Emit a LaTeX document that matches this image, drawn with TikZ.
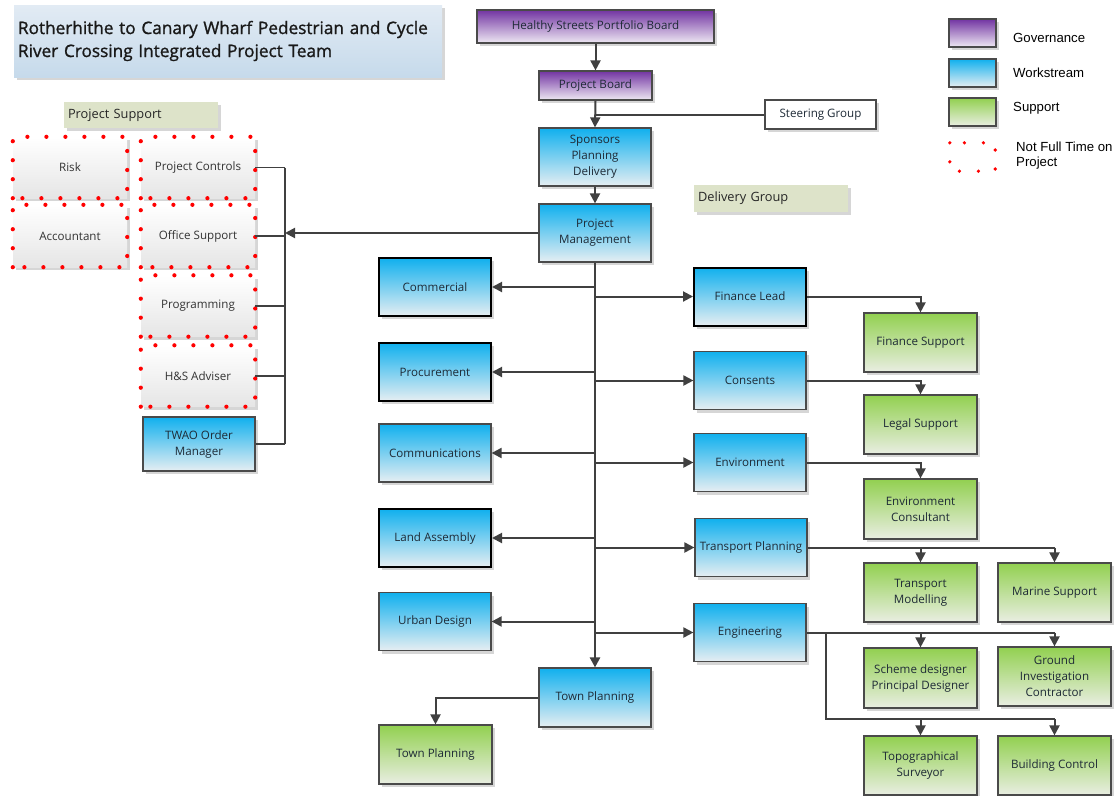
\documentclass[tikz,border=0pt]{standalone}
\usepackage{fontspec}
\setmainfont{Open Sans}
\newfontfamily\legendfont{Liberation Sans}
\newfontfamily\titlefont[FakeBold=1.2]{Open Sans}
\usetikzlibrary{arrows.meta,shadows}
\definecolor{lineg}{HTML}{404040}
\definecolor{boxborder}{HTML}{4A4A4A}
\definecolor{textc}{HTML}{1E2A36}
\definecolor{shadowc}{HTML}{D6D6D6}
\definecolor{blueT}{HTML}{10B0EE}
\definecolor{blueB}{HTML}{E6EEF2}
\definecolor{purT}{HTML}{7234A2}
\definecolor{purB}{HTML}{EEE8F3}
\definecolor{grnT}{HTML}{92D050}
\definecolor{grnB}{HTML}{E9EEE2}
\definecolor{titT}{HTML}{E2EBF4}
\definecolor{titB}{HTML}{C6DAEB}
\definecolor{olive}{HTML}{DDE3C9}
\definecolor{dotred}{HTML}{FF0000}
\tikzset{
  shad/.style={drop shadow={shadow xshift=3pt, shadow yshift=-3pt, fill=shadowc, opacity=1}},
  box/.style={shad, draw=boxborder, line width=1.2pt, inner sep=2pt, align=center,
    font=\fontsize{11.6}{16}\selectfont, text=textc},
  bluebox/.style={box, top color=blueT, bottom color=blueB, minimum width=112pt, minimum height=58pt},
  heavy/.style={draw=black, line width=2pt},
  purbox/.style={box, top color=purT, bottom color=purB},
  grnbox/.style={box, top color=grnT, bottom color=grnB, minimum width=113pt, minimum height=59pt},
  supbox/.style={shad, top color=white, bottom color=black!10, minimum width=114pt, minimum height=61pt,
    align=center, font=\fontsize{11.6}{16}\selectfont, text=black!80},
  dotted red/.style={draw=dotred, line width=4.2pt, dash pattern=on 0pt off 19pt, line cap=round},
  lab/.style={shad, fill=olive, inner xsep=4pt, inner ysep=0pt, align=left, font=\fontsize{12.8}{15}\selectfont, text=black!85},
  conn/.style={draw=lineg, line width=2pt},
  thinconn/.style={draw=lineg, line width=1.1pt},
  arr/.style={conn, -{Triangle[length=10pt,width=10pt]}},
  legtxt/.style={font=\legendfont\fontsize{13.2}{15}\selectfont, anchor=west, align=left, inner sep=0pt},
}
\begin{document}
\begin{tikzpicture}[x=1pt,y=-1pt]
\useasboundingbox (0,0) rectangle (1115,795);
\fill[white] (0,0) rectangle (1115,795);

% title
\node[shad, top color=titT, bottom color=titB, minimum width=428pt, minimum height=72pt, text width=420pt,
  inner xsep=4pt, align=left, font=\titlefont\fontsize{17.2}{23}\selectfont, text=black!90] (title) at (228,41)
  {Rotherhithe to Canary Wharf Pedestrian and Cycle\\River Crossing Integrated Project Team};

% governance
\node[purbox, minimum width=237pt, minimum height=33pt] (hs) at (595.5,26.5) {Healthy Streets Portfolio Board};
\node[purbox, minimum width=113pt, minimum height=29pt] (pb) at (595.5,85.5) {Project Board};
\node[box, fill=white, minimum width=111pt, minimum height=29pt] (sg) at (820.5,114.5) {Steering Group};
\node[bluebox] (spd) at (595,157) {Sponsors\\Planning\\Delivery};
\node[bluebox] (pm) at (595,233) {Project\\Management};

% labels
\node[lab, minimum height=26pt, text width=146pt] (pslab) at (141,115) {Project Support};
\node[lab, minimum height=27pt, text width=146pt] (dglab) at (771,198.5) {Delivery Group};

% project support
\node[supbox] (risk) at (70,167.5) {Risk};
\node[supbox] (pc) at (198,167.5) {Project Controls};
\node[supbox, minimum height=62pt] (acc) at (70,236) {Accountant};
\node[supbox, minimum height=62pt] (os) at (198,236) {Office Support};
\node[supbox] (prog) at (198,306) {Programming};
\node[supbox] (hsa) at (198,376) {H\&S Adviser};
\foreach \n in {risk,pc,acc,os,prog,hsa}{
  \draw[dotted red] (\n.south west) rectangle (\n.north east);
}
\node[bluebox, minimum height=54pt] (twao) at (199,444) {TWAO Order\\Manager};

% left column
\node[bluebox, heavy] (com) at (435,287) {Commercial};
\node[bluebox, heavy] (proc) at (435,372) {Procurement};
\node[bluebox] (comms) at (435,453) {Communications};
\node[bluebox, heavy] (land) at (435,538) {Land Assembly};
\node[bluebox] (urban) at (435,621.5) {Urban Design};

% right column
\node[bluebox, heavy] (fin) at (750,296.5) {Finance Lead};
\node[bluebox] (cons) at (750,380.5) {Consents};
\node[bluebox] (env) at (750,462.5) {Environment};
\node[bluebox] (tp) at (751,547.5) {Transport Planning};
\node[bluebox] (eng) at (750,632.5) {Engineering};

% town planning
\node[bluebox, minimum height=59pt] (tpb) at (595,697.5) {Town Planning};
\node[grnbox] (tpg) at (435.5,754.5) {Town Planning};

% support green
\node[grnbox] (finsup) at (920.5,342.5) {Finance Support};
\node[grnbox] (legal) at (920.5,424.5) {Legal Support};
\node[grnbox, minimum height=60pt] (envc) at (920.5,509) {Environment\\Consultant};
\node[grnbox] (tmod) at (920.5,592.5) {Transport\\Modelling};
\node[grnbox] (marine) at (1054.5,592.5) {Marine Support};
\node[grnbox, minimum height=60pt] (scheme) at (920.5,678) {Scheme designer\\Principal Designer};
\node[grnbox] (ground) at (1054.5,676.5) {Ground\\Investigation\\Contractor};
\node[grnbox] (topo) at (920.5,765.5) {Topographical\\Surveyor};
\node[grnbox] (bc) at (1054.5,765.5) {Building Control};

% legend
\node[purbox, minimum width=47pt, minimum height=28pt] (lg1) at (972.5,33) {};
\node[bluebox, minimum width=47pt, minimum height=28pt] (lg2) at (972.5,73) {};
\node[grnbox, minimum width=47pt, minimum height=28pt] (lg3) at (972.5,112) {};
\node[minimum width=45pt, minimum height=28pt, inner sep=0pt] (lg4) at (972.5,157) {};
\draw[dotted red, line width=3.6pt] (lg4.north west) rectangle (lg4.south east);
\node[legtxt] (lt1) at (1013,38) {Governance};
\node[legtxt] (lt2) at (1013,73) {Workstream};
\node[legtxt] (lt3) at (1013,108) {Support};
\node[legtxt] (lt4) at (1016,155.5) {Not Full Time on\\Project};

% governance connectors
\draw[arr] (hs.south) -- (pb.north);
\draw[arr] (pb.south) -- (spd.north);
\draw[conn] (sg.west) -- (pb.south |- sg.west);
\draw[arr] (spd.south) -- (pm.north);

% main spine
\draw[conn, line width=2.4pt, -{Triangle[length=10pt,width=10pt]}] (pm.south) -- (tpb.north);
\foreach \n in {com,proc,comms,land,urban}{
  \draw[arr] (pm.south |- \n.east) -- (\n.east);
}
\foreach \n in {fin,cons,env,tp,eng}{
  \draw[arr] (pm.south |- \n.west) -- (\n.west);
}
\draw[arr] (tpb.west) -| (tpg.north);

% support connectors
\draw[arr] (fin.east) -| (finsup.north);
\draw[arr] (cons.east) -| (legal.north);
\draw[arr] (env.east) -| (envc.north);
\draw[conn] (tp.east) -- (marine.north |- tp.east);
\draw[arr] (tmod.north |- tp.east) -- (tmod.north);
\draw[arr] (marine.north |- tp.east) -- (marine.north);
\draw[conn] (eng.east) -- (ground.north |- eng.east);
\draw[arr] (scheme.north |- eng.east) -- (scheme.north);
\draw[arr] (ground.north |- eng.east) -- (ground.north);
\coordinate (engdrop) at (826,632.5);
\coordinate (engturn) at (826,719);
\draw[conn] (engdrop) -- (engturn) -- (bc.north |- engturn);
\draw[arr] (topo.north |- engturn) -- (topo.north);
\draw[arr] (bc.north |- engturn) -- (bc.north);

% project support bracket
\coordinate (br) at (285,233);
\foreach \n in {pc,os,prog,hsa,twao}{
  \draw[thinconn] (\n.east) -- (br |- \n.east);
}
\draw[thinconn] (br |- pc.east) -- (br |- twao.east);
\draw[arr] (pm.west) -- (br);
\end{tikzpicture}
\end{document}
